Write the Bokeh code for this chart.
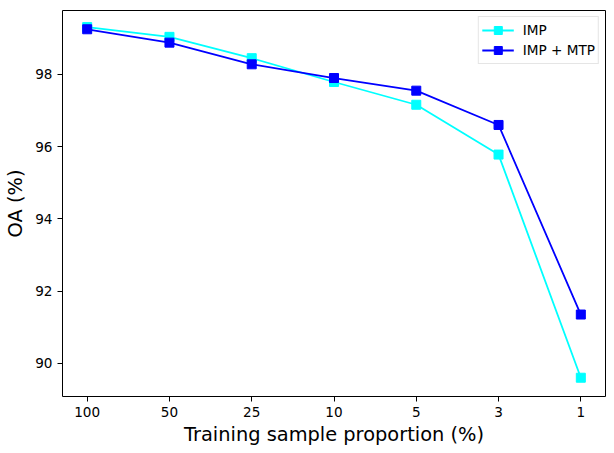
from bokeh.plotting import figure
from bokeh.models import FixedTicker, Range1d, Legend, LegendItem
from bokeh.embed import file_html
from bokeh.resources import INLINE

categories = ["100", "50", "25", "10", "5", "3", "1"]
imp = [99.31, 99.04, 98.45, 97.79, 97.16, 95.78, 89.60]
imp_mtp = [99.25, 98.88, 98.28, 97.90, 97.55, 96.60, 91.35]
y_ticks = [90, 92, 94, 96, 98]

xs = list(range(len(categories)))

p = figure(frame_width=543, frame_height=386, output_backend="svg", toolbar_location=None,
           x_range=Range1d(-0.3, len(categories) - 0.7), y_range=Range1d(89.08, 99.77),
           min_border_left=62, min_border_right=9, min_border_top=10, min_border_bottom=57)
p.xgrid.visible = False
p.ygrid.visible = False
p.outline_line_color = "black"
p.outline_line_width = 1
p.background_fill_color = "white"

p.xaxis.ticker = FixedTicker(ticks=xs)
p.xaxis.major_label_overrides = {i: c for i, c in enumerate(categories)}
p.yaxis.ticker = FixedTicker(ticks=y_ticks)
for ax in (p.xaxis[0], p.yaxis[0]):
    ax.major_tick_in = 0
    ax.major_tick_out = 5
    ax.minor_tick_line_color = None
    ax.axis_line_color = None
    ax.major_label_text_font = "DejaVu Sans"
    ax.major_label_text_font_size = "13.6px"
    ax.major_label_text_color = "black"
    ax.axis_label_text_font = "DejaVu Sans"
    ax.axis_label_text_font_size = "19.4px"
    ax.axis_label_text_font_style = "normal"
    ax.axis_label_text_color = "black"
p.xaxis.axis_label = "Training sample proportion (%)"
p.yaxis.axis_label = "OA (%)"
p.xaxis.major_label_standoff = 5
p.yaxis.major_label_standoff = 5
p.xaxis.axis_label_standoff = 3
p.yaxis.axis_label_standoff = 5

l1 = p.line(xs, imp, line_color="#00FFFF", line_width=1.8)
m1 = p.scatter(xs, imp, marker="square", size=9, fill_color="#00FFFF", line_color="#00FFFF")
l2 = p.line(xs, imp_mtp, line_color="#0000FF", line_width=1.8)
m2 = p.scatter(xs, imp_mtp, marker="square", size=9, fill_color="#0000FF", line_color="#0000FF")

legend = Legend(items=[LegendItem(label="IMP", renderers=[l1, m1]),
                       LegendItem(label="IMP + MTP", renderers=[l2, m2])],
                location="top_right")
legend.label_text_font = "DejaVu Sans"
legend.label_text_font_size = "13.6px"
legend.label_text_color = "black"
legend.border_line_color = "#cccccc"
legend.border_line_width = 1
legend.background_fill_alpha = 0.8
legend.margin = 6
legend.padding = 3
legend.spacing = 0
legend.glyph_width = 32
legend.glyph_height = 20
legend.label_standoff = 9
legend.label_height = 20
p.add_layout(legend)

open("out.html", "w").write(file_html(p, INLINE))
